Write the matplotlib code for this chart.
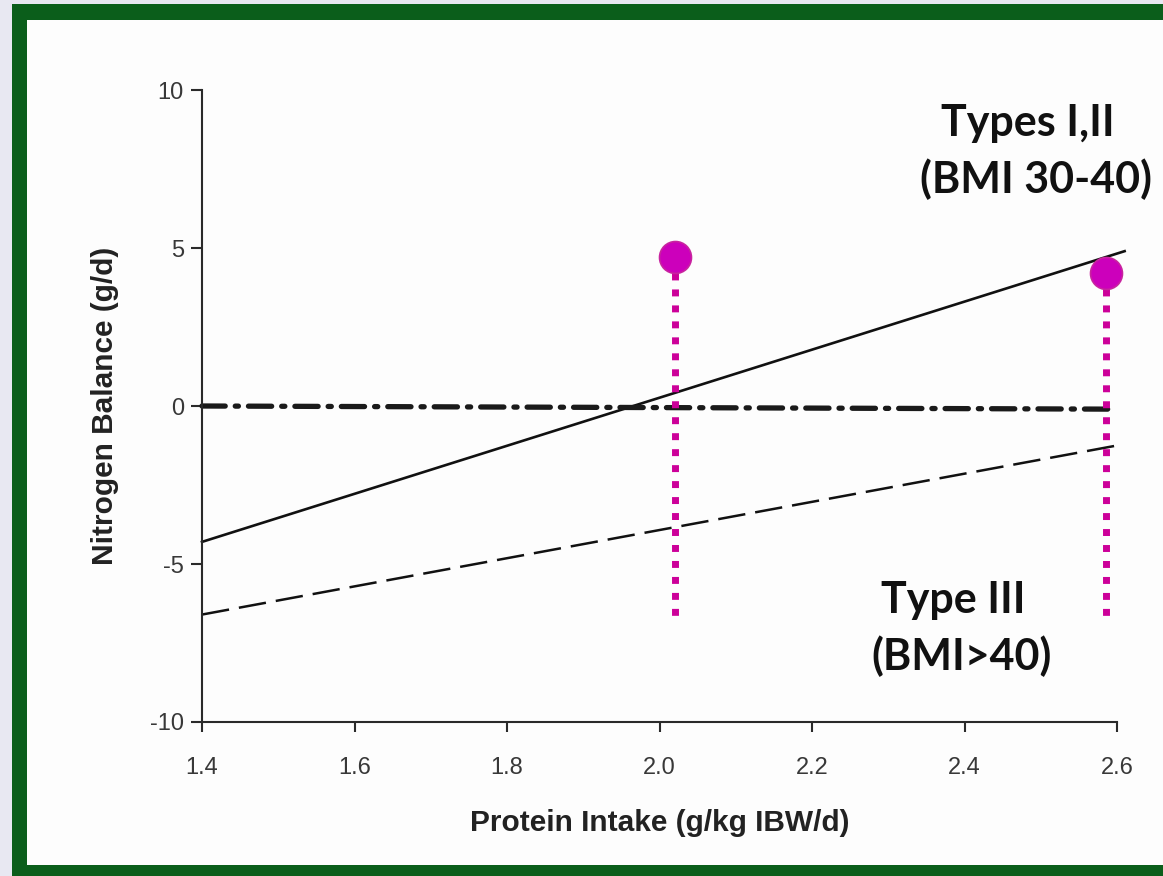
import matplotlib.pyplot as plt
from matplotlib.patches import Rectangle

plt.rcParams['axes.unicode_minus'] = False

# data
x_ticks = [1.4, 1.6, 1.8, 2.0, 2.2, 2.4, 2.6]
y_ticks = [-10, -5, 0, 5, 10]

types_12_x = [1.4, 2.61]
types_12_y = [-4.3, 4.9]

type_3_x = [1.4, 2.6]
type_3_y = [-6.6, -1.25]

balance_x = [1.4, 2.6]
balance_y = [0.0, -0.1]

point_x = [2.02, 2.585]
point_y = [4.7, 4.2]
drop_bottom = -6.8

W, H = 1163, 876
fig = plt.figure(figsize=(W / 100, H / 100), dpi=100)
fig.patch.set_facecolor('#e8e8f2')

# green frame and white panel
fig.add_artist(Rectangle((12 / W, 0), 1, 1 - 4 / H, transform=fig.transFigure,
                         facecolor='#0b5e1b', edgecolor='none', zorder=-2))
fig.add_artist(Rectangle((27 / W, 11 / H), 1, 1 - 31 / H, transform=fig.transFigure,
                         facecolor='#fdfdfd', edgecolor='none', zorder=-1))

ax = fig.add_axes([202 / W, 1 - 722 / H, (1117 - 202) / W, (722 - 90) / H])
ax.set_facecolor('none')

ax.plot(types_12_x, types_12_y, color='#111111', lw=1.9, clip_on=False)
ax.plot(type_3_x, type_3_y, color='#111111', lw=1.8, dashes=(11, 4), clip_on=False)
ax.plot(balance_x, balance_y, color='#1a1a1a', lw=3.8, dashes=(4.4, 1.9, 0.6, 1.9),
        dash_capstyle='round', clip_on=False)

for px, py in zip(point_x, point_y):
    ax.plot([px, px], [py, drop_bottom], color='#cc0099', lw=5, dashes=(1, 1.3),
            solid_capstyle='butt', dash_capstyle='butt', clip_on=False, zorder=3)
ax.plot(point_x, point_y, 'o', ms=23, mfc='#cc00bb', mec='#c8249f', mew=1.2,
        clip_on=False, zorder=4)

ax.set_xlim(1.4, 2.6)
ax.set_ylim(-10, 10)
ax.set_xticks(x_ticks)
ax.set_xticklabels([f'{v:.1f}' for v in x_ticks])
ax.set_yticks(y_ticks)

for side in ['top', 'right']:
    ax.spines[side].set_visible(False)
for side in ['left', 'bottom']:
    ax.spines[side].set_color('#2a2a2a')
    ax.spines[side].set_linewidth(1.5)

ax.tick_params(axis='both', colors='#2a2a2a', width=1.5, labelsize=17,
               labelcolor='#383838', direction='out')
ax.tick_params(axis='y', length=8, pad=5)
ax.tick_params(axis='x', length=7, pad=18)
for lbl in ax.get_xticklabels() + ax.get_yticklabels():
    lbl.set_family('Liberation Sans')

ax.set_xlabel('Protein Intake (g/kg IBW/d)', family='Liberation Sans',
              fontweight='bold', fontsize=21.5, color='#222222', labelpad=22)
ax.set_ylabel('Nitrogen Balance (g/d)', family='Liberation Sans',
              fontweight='bold', fontsize=21.5, color='#222222', labelpad=22)

ann = dict(family='Lato', fontweight='bold', fontsize=31, color='#111111',
           ha='center', va='center')
fig.text(1028 / W, 1 - 123 / H, 'Types I,II', **ann)
fig.text(1036 / W, 1 - 179 / H, '(BMI 30-40)', **ann)
fig.text(953 / W, 1 - 600 / H, 'Type III', **ann)
fig.text(962 / W, 1 - 656 / H, '(BMI>40)', **ann)

fig.savefig('out.png', dpi=100, facecolor=fig.get_facecolor())
